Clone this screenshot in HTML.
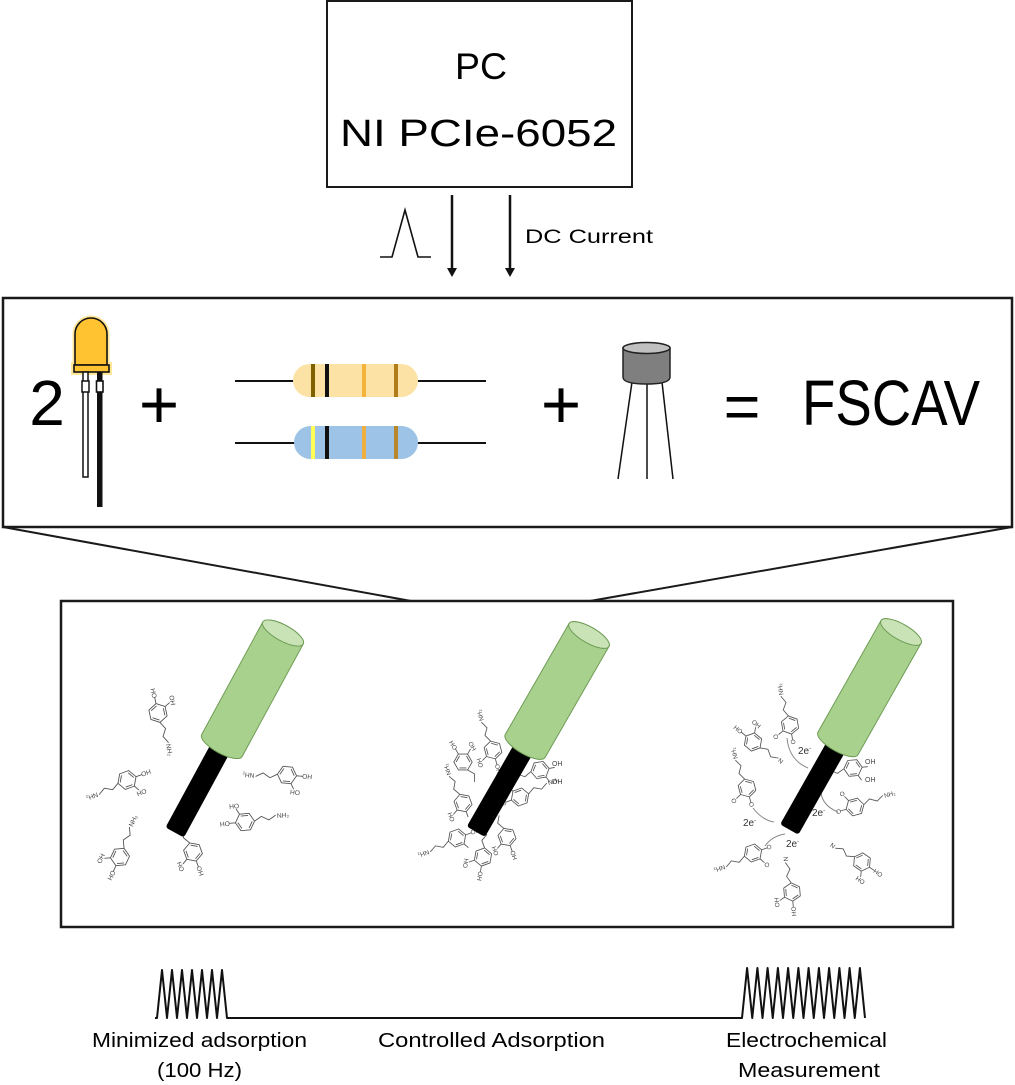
<!DOCTYPE html>
<html><head><meta charset="utf-8"><style>
html,body{margin:0;padding:0;background:#fff;}
svg{display:block;}
.m path{fill:none;stroke:#555;stroke-width:.75;stroke-linejoin:round;}
.m text{font-family:"Liberation Sans",sans-serif;font-size:5.5px;fill:#444;}
.t{font-family:"Liberation Sans",sans-serif;fill:#000;}
</style></head><body>
<svg width="1015" height="1085" viewBox="0 0 1015 1085" xmlns="http://www.w3.org/2000/svg">
<!-- PC box -->
<rect x="327" y="1" width="305" height="186" fill="#fff" stroke="#1a1a1a" stroke-width="2"/>
<text class="t" x="481" y="79" font-size="37" text-anchor="middle" textLength="52" lengthAdjust="spacingAndGlyphs">PC</text>
<text class="t" x="478.5" y="146" font-size="38" text-anchor="middle" textLength="277" lengthAdjust="spacingAndGlyphs">NI PCIe-6052</text>
<!-- peak symbol -->
<polyline points="380,257 392,257 405,210 418,257 431,257" fill="none" stroke="#111" stroke-width="1.6"/>
<!-- arrows -->
<line x1="452" y1="195" x2="452" y2="270" stroke="#111" stroke-width="2.5"/>
<polygon points="447,268 457,268 452,277" fill="#111"/>
<line x1="510" y1="195" x2="510" y2="270" stroke="#111" stroke-width="2.5"/>
<polygon points="505,268 515,268 510,277" fill="#111"/>
<text class="t" x="525" y="243" font-size="19" textLength="128" lengthAdjust="spacingAndGlyphs">DC Current</text>

<!-- middle box -->
<rect x="3" y="298" width="1009" height="229" fill="#fff" stroke="#1a1a1a" stroke-width="2.5"/>
<text class="t" x="47" y="425" font-size="64" text-anchor="middle">2</text>
<!-- LED -->
<path d="M75,365 L75,334 A16,16 0 0 1 107,334 L107,365 Z" fill="none" stroke="#FFE699" stroke-width="5"/>
<rect x="73" y="364" width="37" height="9" fill="none" stroke="#FFE699" stroke-width="4"/>
<path d="M75,365 L75,334 A16,16 0 0 1 107,334 L107,365 Z" fill="#FFC332" stroke="#111" stroke-width="1.6"/>
<rect x="74" y="365" width="35" height="7" fill="#FFC332" stroke="#111" stroke-width="1.6"/>
<rect x="83" y="372" width="5" height="105" fill="#fff" stroke="#111" stroke-width="1.5"/>
<rect x="82" y="381" width="7" height="11" fill="#fff" stroke="#111" stroke-width="1.5"/>
<rect x="97" y="372" width="5.5" height="135" fill="#111"/>
<rect x="96.5" y="381" width="6.5" height="11" fill="#fff" stroke="#111" stroke-width="1.6"/>
<text class="t" x="159" y="428" font-size="69" text-anchor="middle">+</text>
<!-- resistors -->
<line x1="235" y1="381" x2="486" y2="381" stroke="#111" stroke-width="2"/>
<rect x="293" y="364" width="125" height="33" rx="16.5" fill="#FDE2A6"/>
<rect x="311" y="364" width="4" height="33" fill="#7F6000"/>
<rect x="325" y="364" width="4" height="33" fill="#111"/>
<rect x="362" y="364" width="4" height="33" fill="#F4B43A"/>
<rect x="394" y="364" width="4" height="33" fill="#B07D1A"/>
<line x1="235" y1="443" x2="486" y2="443" stroke="#111" stroke-width="2"/>
<rect x="294" y="426" width="124" height="33" rx="16.5" fill="#9DC3E6"/>
<rect x="311" y="426" width="4" height="33" fill="#FFFF55"/>
<rect x="325" y="426" width="4" height="33" fill="#111"/>
<rect x="362" y="426" width="4" height="33" fill="#F0B040"/>
<rect x="394" y="426" width="4" height="33" fill="#B8862B"/>
<text class="t" x="561" y="428" font-size="69" text-anchor="middle">+</text>
<!-- transistor -->
<line x1="632" y1="382" x2="618" y2="479" stroke="#111" stroke-width="1.5"/>
<line x1="647" y1="382" x2="647" y2="479" stroke="#111" stroke-width="1.5"/>
<line x1="662" y1="382" x2="673" y2="479" stroke="#111" stroke-width="1.5"/>
<path d="M623,348 L623,377 Q623,384 646.5,384 Q670,384 670,377 L670,348 Z" fill="#7F7F7F" stroke="#222" stroke-width="1.5"/>
<ellipse cx="646.5" cy="348" rx="23.5" ry="5.5" fill="#C0C0C0" stroke="#222" stroke-width="1.5"/>
<text class="t" x="742" y="428" font-size="63" text-anchor="middle">=</text>
<text class="t" x="802" y="425" font-size="64" textLength="178" lengthAdjust="spacingAndGlyphs">FSCAV</text>

<!-- zoom lines -->
<line x1="3" y1="527" x2="411" y2="601" stroke="#1a1a1a" stroke-width="2"/>
<line x1="590" y1="601" x2="1012" y2="527" stroke="#1a1a1a" stroke-width="2"/>

<!-- bottom box -->
<rect x="61" y="601" width="892" height="326" fill="#fff" stroke="#1a1a1a" stroke-width="2.5"/>

<!-- molecules electrode 1 -->
<g class="m" transform="translate(158,713) rotate(78) scale(1.2)"><path d="M8,0L4,6.9L-4,6.9L-8,0L-4,-6.9L4,-6.9Z M6,0L3,5.2 M-3,5.2L-6,0 M-3,-5.2L3,-5.2 M8,0L14,-3.5L20,0L26,-3.5 M-8,0L-13,0 M-4,-6.9L-6.5,-11.3"/><text x="27" y="-1">NH₂</text><text x="-21" y="2">HO</text><text x="-12" y="-12">OH</text></g>
<g class="m" transform="translate(127,780) rotate(160) scale(1.2)"><path d="M8,0L4,6.9L-4,6.9L-8,0L-4,-6.9L4,-6.9Z M6,0L3,5.2 M-3,5.2L-6,0 M-3,-5.2L3,-5.2 M8,0L14,-3.5L20,0L26,-3.5 M-8,0L-13,0 M-4,-6.9L-6.5,-11.3"/><text x="27" y="-1">NH₂</text><text x="-21" y="2">HO</text><text x="-12" y="-12">OH</text></g>
<g class="m" transform="translate(287,775) rotate(185) scale(1.2)"><path d="M8,0L4,6.9L-4,6.9L-8,0L-4,-6.9L4,-6.9Z M6,0L3,5.2 M-3,5.2L-6,0 M-3,-5.2L3,-5.2 M8,0L14,-3.5L20,0L26,-3.5 M-8,0L-13,0 M-4,-6.9L-6.5,-11.3"/><text x="27" y="-1">NH₂</text><text x="-21" y="2">HO</text><text x="-12" y="-12">OH</text></g>
<g class="m" transform="translate(245,822) rotate(-5) scale(1.2)"><path d="M8,0L4,6.9L-4,6.9L-8,0L-4,-6.9L4,-6.9Z M6,0L3,5.2 M-3,5.2L-6,0 M-3,-5.2L3,-5.2 M8,0L14,-3.5L20,0L26,-3.5 M-8,0L-13,0 M-4,-6.9L-6.5,-11.3"/><text x="27" y="-1">NH₂</text><text x="-21" y="2">HO</text><text x="-12" y="-12">HO</text></g>
<g class="m" transform="translate(193,852) rotate(-110) scale(1.2)"><path d="M8,0L4,6.9L-4,6.9L-8,0L-4,-6.9L4,-6.9Z M6,0L3,5.2 M-3,5.2L-6,0 M-3,-5.2L3,-5.2 M8,0L14,-3.5L20,0 M-8,0L-13,0 M-4,-6.9L-6.5,-11.3"/><text x="-21" y="2">HO</text><text x="-12" y="-12">OH</text></g>
<g class="m" transform="translate(120,857) rotate(-65) scale(1.2)"><path d="M8,0L4,6.9L-4,6.9L-8,0L-4,-6.9L4,-6.9Z M6,0L3,5.2 M-3,5.2L-6,0 M-3,-5.2L3,-5.2 M8,0L14,-3.5L20,0L26,-3.5 M-8,0L-13,0 M-4,-6.9L-6.5,-11.3"/><text x="27" y="-1">NH₂</text><text x="-21" y="2">HO</text><text x="-12" y="-12">OH</text></g>

<!-- molecules electrode 2 -->
<g class="m" transform="translate(493,750) rotate(-105) scale(1.15)"><path d="M8,0L4,6.9L-4,6.9L-8,0L-4,-6.9L4,-6.9Z M6,0L3,5.2 M-3,5.2L-6,0 M-3,-5.2L3,-5.2 M8,0L14,-3.5L20,0L26,-3.5 M-8,0L-13,0 M-4,-6.9L-6.5,-11.3"/><text x="27" y="-1">NH₂</text><text x="-21" y="2">HO</text><text x="-12" y="-12">OH</text></g>
<g class="m" transform="translate(463,762) rotate(60) scale(1.15)"><path d="M8,0L4,6.9L-4,6.9L-8,0L-4,-6.9L4,-6.9Z M6,0L3,5.2 M-3,5.2L-6,0 M-3,-5.2L3,-5.2 M8,0L14,-3.5L20,0 M-8,0L-13,0 M-4,-6.9L-6.5,-11.3"/><text x="-21" y="2">HO</text><text x="-12" y="-12">OH</text></g>
<g class="m" transform="translate(463,803) rotate(-110) scale(1.15)"><path d="M8,0L4,6.9L-4,6.9L-8,0L-4,-6.9L4,-6.9Z M6,0L3,5.2 M-3,5.2L-6,0 M-3,-5.2L3,-5.2 M8,0L14,-3.5L20,0L26,-3.5 M-8,0L-13,0 M-4,-6.9L-6.5,-11.3"/><text x="27" y="-1">NH₂</text><text x="-12" y="-12">OH</text></g>
<g class="m" transform="translate(457,838) rotate(160) scale(1.15)"><path d="M8,0L4,6.9L-4,6.9L-8,0L-4,-6.9L4,-6.9Z M6,0L3,5.2 M-3,5.2L-6,0 M-3,-5.2L3,-5.2 M8,0L14,-3.5L20,0L26,-3.5 M-8,0L-13,0 M-4,-6.9L-6.5,-11.3"/><text x="27" y="-1">NH₂</text><text x="-21" y="2">HO</text></g>
<g class="m" transform="translate(483,857) rotate(-80) scale(1.15)"><path d="M8,0L4,6.9L-4,6.9L-8,0L-4,-6.9L4,-6.9Z M6,0L3,5.2 M-3,5.2L-6,0 M-3,-5.2L3,-5.2 M8,0L14,-3.5L20,0 M-8,0L-13,0 M-4,-6.9L-6.5,-11.3"/><text x="-21" y="2">HO</text><text x="-12" y="-12">OH</text></g>
<g class="m" transform="translate(540,770) rotate(170) scale(1.15)"><path d="M8,0L4,6.9L-4,6.9L-8,0L-4,-6.9L4,-6.9Z M6,0L3,5.2 M-3,5.2L-6,0 M-3,-5.2L3,-5.2 M8,0L14,-3.5L20,0 M-8,0L-13,0 M-4,-6.9L-6.5,-11.3"/></g>
<text x="552" y="766" font-family="Liberation Sans,sans-serif" font-size="7" fill="#444">OH</text>
<text x="552" y="784" font-family="Liberation Sans,sans-serif" font-size="7" fill="#444">OH</text>
<g class="m" transform="translate(520,797) rotate(-20) scale(1.15)"><path d="M8,0L4,6.9L-4,6.9L-8,0L-4,-6.9L4,-6.9Z M6,0L3,5.2 M-3,5.2L-6,0 M-3,-5.2L3,-5.2 M8,0L14,-3.5L20,0L26,-3.5 M-8,0L-13,0 M-4,-6.9L-6.5,-11.3"/><text x="27" y="-1">NH₂</text><text x="-21" y="2">HO</text></g>
<g class="m" transform="translate(507,837) rotate(-110) scale(1.15)"><path d="M8,0L4,6.9L-4,6.9L-8,0L-4,-6.9L4,-6.9Z M6,0L3,5.2 M-3,5.2L-6,0 M-3,-5.2L3,-5.2 M8,0L14,-3.5L20,0 M-8,0L-13,0 M-4,-6.9L-6.5,-11.3"/><text x="-21" y="2">HO</text><text x="-12" y="-12">OH</text></g>

<!-- molecules electrode 3 -->
<g class="m" transform="translate(790,725) rotate(-100) scale(1.15)"><path d="M8,0L4,6.9L-4,6.9L-8,0L-4,-6.9L4,-6.9Z M6,0L3,5.2 M-3,5.2L-6,0 M-3,-5.2L3,-5.2 M8,0L14,-3.5L20,0L26,-3.5 M-8,0L-13,0 M-4,-6.9L-6.5,-11.3"/><text x="27" y="-1">NH₂</text><text x="-17" y="2">O</text><text x="-10" y="-12">O</text></g>
<g class="m" transform="translate(753,742) rotate(40) scale(1.15)"><path d="M8,0L4,6.9L-4,6.9L-8,0L-4,-6.9L4,-6.9Z M6,0L3,5.2 M-3,5.2L-6,0 M-3,-5.2L3,-5.2 M8,0L14,-3.5L20,0L26,-3.5 M-8,0L-13,0 M-4,-6.9L-6.5,-11.3"/><text x="27" y="-1">N</text><text x="-21" y="2">HO</text><text x="-12" y="-12">OH</text></g>
<g class="m" transform="translate(747,788) rotate(-105) scale(1.15)"><path d="M8,0L4,6.9L-4,6.9L-8,0L-4,-6.9L4,-6.9Z M6,0L3,5.2 M-3,5.2L-6,0 M-3,-5.2L3,-5.2 M8,0L14,-3.5L20,0L26,-3.5 M-8,0L-13,0 M-4,-6.9L-6.5,-11.3"/><text x="27" y="-1">NH₂</text><text x="-17" y="2">O</text><text x="-10" y="-12">O</text></g>
<g class="m" transform="translate(853,768) rotate(175) scale(1.15)"><path d="M8,0L4,6.9L-4,6.9L-8,0L-4,-6.9L4,-6.9Z M6,0L3,5.2 M-3,5.2L-6,0 M-3,-5.2L3,-5.2 M8,0L14,-3.5L20,0 M-8,0L-13,0 M-4,-6.9L-6.5,-11.3"/></g>
<text x="865" y="764" font-family="Liberation Sans,sans-serif" font-size="7" fill="#444">OH</text>
<text x="865" y="782" font-family="Liberation Sans,sans-serif" font-size="7" fill="#444">OH</text>
<g class="m" transform="translate(855,807) rotate(-15) scale(1.15)"><path d="M8,0L4,6.9L-4,6.9L-8,0L-4,-6.9L4,-6.9Z M6,0L3,5.2 M-3,5.2L-6,0 M-3,-5.2L3,-5.2 M8,0L14,-3.5L20,0L26,-3.5 M-8,0L-13,0 M-4,-6.9L-6.5,-11.3"/><text x="27" y="-1">NH₂</text><text x="-17" y="2">O</text><text x="-10" y="-12">O</text></g>
<g class="m" transform="translate(753,853) rotate(160) scale(1.15)"><path d="M8,0L4,6.9L-4,6.9L-8,0L-4,-6.9L4,-6.9Z M6,0L3,5.2 M-3,5.2L-6,0 M-3,-5.2L3,-5.2 M8,0L14,-3.5L20,0L26,-3.5 M-8,0L-13,0 M-4,-6.9L-6.5,-11.3"/><text x="27" y="-1">NH₂</text><text x="-17" y="2">O</text><text x="-10" y="-12">O</text></g>
<g class="m" transform="translate(792,892) rotate(-95) scale(1.15)"><path d="M8,0L4,6.9L-4,6.9L-8,0L-4,-6.9L4,-6.9Z M6,0L3,5.2 M-3,5.2L-6,0 M-3,-5.2L3,-5.2 M8,0L14,-3.5L20,0L26,-3.5 M-8,0L-13,0 M-4,-6.9L-6.5,-11.3"/><text x="27" y="-1">N</text><text x="-21" y="2">HO</text><text x="-12" y="-12">OH</text></g>
<g class="m" transform="translate(862,862) rotate(-145) scale(1.15)"><path d="M8,0L4,6.9L-4,6.9L-8,0L-4,-6.9L4,-6.9Z M6,0L3,5.2 M-3,5.2L-6,0 M-3,-5.2L3,-5.2 M8,0L14,-3.5L20,0L26,-3.5 M-8,0L-13,0 M-4,-6.9L-6.5,-11.3"/><text x="27" y="-1">N</text><text x="-21" y="2">OH</text><text x="-12" y="-12">OH</text></g>

<!-- 2e- arrows -->
<g fill="none" stroke="#888" stroke-width="1">
<path d="M787,738 Q789,760 808,768"/>
<path d="M838,812 Q823,806 821,793"/>
<path d="M753,808 Q762,820 774,822"/>
<path d="M765,846 Q772,836 785,834"/>
</g>
<g font-family="Liberation Sans,sans-serif" font-size="10" fill="#333">
<text x="798" y="754">2e<tspan font-size="6" dy="-4">-</tspan></text>
<text x="812" y="816">2e<tspan font-size="6" dy="-4">-</tspan></text>
<text x="743" y="826">2e<tspan font-size="6" dy="-4">-</tspan></text>
<text x="786" y="847">2e<tspan font-size="6" dy="-4">-</tspan></text>
</g>

<!-- electrodes -->
<g transform="translate(283,633) rotate(28.5)">
<rect x="-10.5" y="120" width="21" height="107" rx="3" fill="#000"/>
<path d="M-23,0 L-23,128 A23,8 0 0 0 23,128 L23,0 A23,8 0 0 0 -23,0 Z" fill="#A9D18E" stroke="#6E9C55" stroke-width="1"/>
<ellipse cx="0" cy="0" rx="23" ry="8" fill="#C9E3B7" stroke="#6E9C55" stroke-width="1"/>
</g>
<g transform="translate(589,635) rotate(29.9)">
<rect x="-10.5" y="120" width="21" height="107" rx="3" fill="#000"/>
<path d="M-23,0 L-23,128 A23,8 0 0 0 23,128 L23,0 A23,8 0 0 0 -23,0 Z" fill="#A9D18E" stroke="#6E9C55" stroke-width="1"/>
<ellipse cx="0" cy="0" rx="23" ry="8" fill="#C9E3B7" stroke="#6E9C55" stroke-width="1"/>
</g>
<g transform="translate(901,632) rotate(29.5)">
<rect x="-10.5" y="120" width="21" height="107" rx="3" fill="#000"/>
<path d="M-23,0 L-23,128 A23,8 0 0 0 23,128 L23,0 A23,8 0 0 0 -23,0 Z" fill="#A9D18E" stroke="#6E9C55" stroke-width="1"/>
<ellipse cx="0" cy="0" rx="23" ry="8" fill="#C9E3B7" stroke="#6E9C55" stroke-width="1"/>
</g>

<!-- waveforms -->
<polyline fill="none" stroke="#111" stroke-width="2" stroke-linejoin="round" points="155,1018 157,1018 162,970 167,1018 172,970 177,1018 182,970 187,1018 192,970 197,1018 202,970 207,1018 212,970 217,1018 222,970 227,1018 742,1018 747.1,968 752.25,1018 757.4,968 762.5,1018 767.6,968 772.75,1018 777.9,968 783,1018 788.1,968 793.25,1018 798.4,968 803.5,1018 808.6,968 813.75,1018 818.9,968 824,1018 829.1,968 834.25,1018 839.4,968 844.5,1018 849.6,968 854.75,1018 859.9,968 865,1018"/>

<g class="t" font-size="20">
<text x="92" y="1047" textLength="215" lengthAdjust="spacingAndGlyphs">Minimized adsorption</text>
<text x="157" y="1077" textLength="85" lengthAdjust="spacingAndGlyphs">(100 Hz)</text>
<text x="378" y="1047" textLength="227" lengthAdjust="spacingAndGlyphs">Controlled Adsorption</text>
<text x="726" y="1047" textLength="161" lengthAdjust="spacingAndGlyphs">Electrochemical</text>
<text x="738" y="1077" textLength="142" lengthAdjust="spacingAndGlyphs">Measurement</text>
</g>
</svg>
</body></html>
